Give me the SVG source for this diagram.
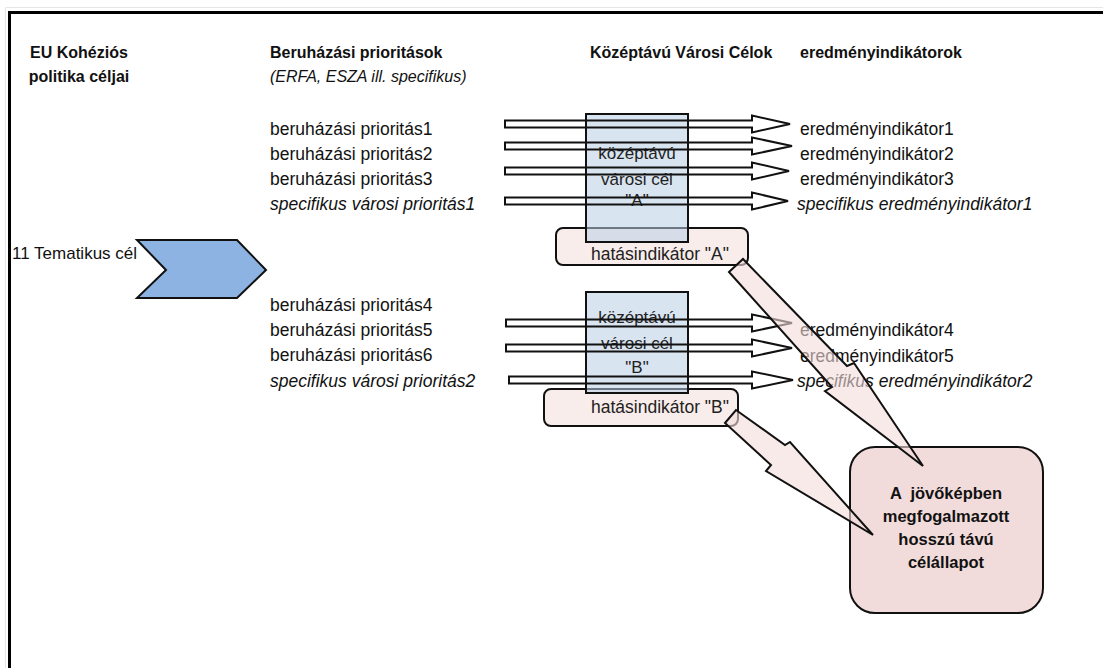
<svg xmlns="http://www.w3.org/2000/svg" width="1103" height="668" viewBox="0 0 1103 668">
<style>
  .hdr { font-family: "Liberation Sans", Arial, sans-serif; font-size: 16px; font-weight: bold; fill: #111; }
  .txt { font-family: "Liberation Sans", Arial, sans-serif; font-size: 17.5px; fill: #111; }
  .it { font-style: italic; }
  .sub { font-family: "Liberation Sans", Arial, sans-serif; font-size: 16px; font-style: italic; fill: #111; }
  .boxtxt { font-family: "Liberation Sans", Arial, sans-serif; font-size: 17px; fill: #222; text-anchor: middle; }
  .imptxt { font-family: "Liberation Sans", Arial, sans-serif; font-size: 17.5px; fill: #222; text-anchor: middle; }
  .goal { fill: #b9cde5; fill-opacity: 0.55; stroke: #111; stroke-width: 2; }
  .impact { fill: #f9edeb; stroke: #111; stroke-width: 2; }
  .thin { fill: none; stroke: #111; stroke-width: 2; stroke-linejoin: miter; }
  .big { fill: #f2dcdb; fill-opacity: 0.6; stroke: #111; stroke-width: 2; stroke-linejoin: miter; }
  .final { font-family: "Liberation Sans", Arial, sans-serif; font-size: 16.5px; font-weight: bold; fill: #111; text-anchor: middle; }
</style>
<rect width="1103" height="668" fill="#fff"/>
<g id="frame">
  <path d="M5.5,668 V7.5 H1103" fill="none" stroke="#e6e6e6" stroke-width="1"/>
  <path d="M9.5,668 V12.5 H1103" fill="none" stroke="#000" stroke-width="3"/>
</g>
<g id="headers">
  <text class="hdr" x="79" y="58" text-anchor="middle">EU Kohéziós</text>
  <text class="hdr" x="79" y="82" text-anchor="middle">politika céljai</text>
  <text class="hdr" x="270" y="58">Beruházási prioritások</text>
  <text class="sub" x="270" y="82">(ERFA, ESZA ill. specifikus)</text>
  <text class="hdr" x="590" y="58">Középtávú Városi Célok</text>
  <text class="hdr" x="800" y="58">eredményindikátorok</text>
</g>
<g id="tematikus">
  <polygon points="137,240 237,240 266,270 237,298 137,298 166,270" fill="#8db3e2" stroke="#111" stroke-width="2"/>
  <text class="txt" x="12" y="259" style="font-size:17px">11 Tematikus cél</text>
</g>
<g id="prioritasok-A">
  <text class="txt" x="270" y="135">beruházási prioritás1</text>
  <text class="txt" x="270" y="160">beruházási prioritás2</text>
  <text class="txt" x="270" y="185">beruházási prioritás3</text>
  <text class="txt it" x="270" y="210">specifikus városi prioritás1</text>
</g>
<g id="prioritasok-B">
  <text class="txt" x="270" y="311">beruházási prioritás4</text>
  <text class="txt" x="270" y="336">beruházási prioritás5</text>
  <text class="txt" x="270" y="361">beruházási prioritás6</text>
  <text class="txt it" x="270" y="387">specifikus városi prioritás2</text>
</g>
<g id="indikatorok-A">
  <text class="txt" x="800" y="135">eredményindikátor1</text>
  <text class="txt" x="800" y="160">eredményindikátor2</text>
  <text class="txt" x="800" y="185">eredményindikátor3</text>
  <text class="txt it" x="797" y="210">specifikus eredményindikátor1</text>
</g>
<g id="indikatorok-B">
  <text class="txt" x="800" y="336">eredményindikátor4</text>
  <text class="txt" x="800" y="362">eredményindikátor5</text>
  <text class="txt it" x="797" y="387">specifikus eredményindikátor2</text>
</g>
<g id="hatasindikator-A">
  <rect class="impact" x="556" y="228" width="192" height="37" rx="7"/>
  <text class="imptxt" x="660" y="260">hatásindikátor "A"</text>
</g>
<g id="hatasindikator-B">
  <rect class="impact" x="544" y="389" width="194" height="37" rx="7"/>
  <text class="imptxt" x="660" y="413">hatásindikátor "B"</text>
</g>
<g id="cel-A">
  <rect class="goal" x="586" y="114" width="102" height="128"/>
  <text class="boxtxt" x="637" y="159">középtávú</text>
  <text class="boxtxt" x="637" y="185">városi cél</text>
  <text class="boxtxt" x="637" y="206">"A"</text>
</g>
<g id="cel-B">
  <rect class="goal" x="586" y="292" width="102" height="101"/>
  <text class="boxtxt" x="637" y="323">középtávú</text>
  <text class="boxtxt" x="637" y="349">városi cél</text>
  <text class="boxtxt" x="637" y="373">"B"</text>
</g>
<g id="celallapot">
  <rect x="850" y="447" width="193" height="166" rx="25" fill="#f2dcdb" stroke="#111" stroke-width="2"/>
  <text class="final" x="946" y="499" xml:space="preserve">A  jövőképben</text>
  <text class="final" x="946" y="522">megfogalmazott</text>
  <text class="final" x="946" y="545">hosszú távú</text>
  <text class="final" x="946" y="568">célállapot</text>
</g>
<g id="connectors">
  <path class="thin" d="M505,120.5 H752 V115.5 L790,124 L752,132.5 V127.5 H505 Z"/>
  <path class="thin" d="M505,142.5 H752 V137.5 L792,146 L752,154.5 V149.5 H505 Z"/>
  <path class="thin" d="M505,167.5 H752 V162.5 L789,171 L752,179.5 V174.5 H505 Z"/>
  <path class="thin" d="M505,197.5 H752 V192.5 L788,201 L752,209.5 V204.5 H505 Z"/>
  <path class="thin" d="M506,319.5 H752 V314.5 L792,323 L752,331.5 V326.5 H506 Z"/>
  <path class="thin" d="M506,344.5 H752 V339.5 L792,348 L752,356.5 V351.5 H506 Z"/>
  <path class="thin" d="M509,376.5 H752 V371.5 L793,380 L752,388.5 V383.5 H509 Z"/>
  <polygon class="big" points="729,272 743,259 847,366 854,363 923,466 825,391 832,387"/>
  <polygon class="big" points="725,423 736,410 785,445 790,442 873,535 766,471 771,465"/>
</g>
</svg>
